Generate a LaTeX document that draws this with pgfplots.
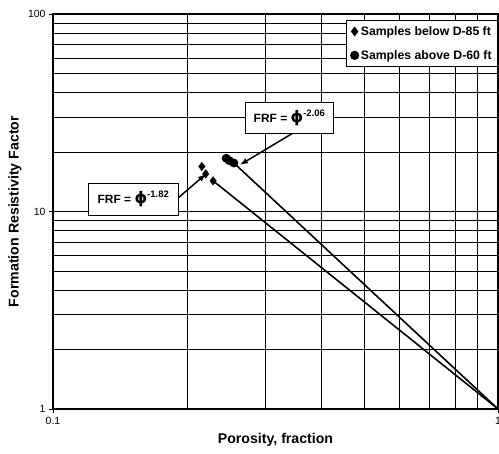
\documentclass[border=0pt]{standalone}
\usepackage{pgfplots}
\pgfplotsset{compat=1.18}
\usetikzlibrary{arrows.meta}
\usepackage{fontspec}
\setmainfont{Liberation Sans}
\newfontfamily\dejavu{DejaVu Sans}
\begin{document}
\begin{tikzpicture}
\begin{axis}[
  scale only axis,
  width=445bp, height=395bp,
  xmode=log, ymode=log,
  xmin=0.1, xmax=1, ymin=1, ymax=100,
  xtick={0.1,1}, xticklabels={0.1,1},
  ytick={1,10,100}, yticklabels={1,10,100},
  minor xtick={0.2,0.3,0.4,0.5,0.6,0.7,0.8,0.9},
  minor ytick={2,3,4,5,6,7,8,9,20,30,40,50,60,70,80,90},
  grid=both,
  major grid style={black, line width=0.6bp},
  minor grid style={black, line width=0.6bp},
  axis line style={black, line width=1.3bp},
  tick pos=left, tick align=outside,
  major tick length=4bp, minor tick length=0pt,
  tick style={black, line width=0.8bp},
  tick label style={font=\fontsize{10.5}{12}\selectfont},
  /pgf/number format/assume math mode=true,
  xticklabel style={yshift=-1bp},
  xlabel={\bfseries Porosity, fraction},
  ylabel={\bfseries Formation Resistivity Factor},
  label style={font=\fontsize{14.2}{16}\selectfont\bfseries},
  x label style={at={(axis description cs:0.5,0)}, anchor=center, yshift=-31bp},
  y label style={at={(axis description cs:-0.0854,0.5)}, anchor=center},
  clip=false,
  legend style={at={(rel axis cs:1,0.985)}, anchor=north east, draw=black, line width=0.8bp,
    fill=white, font=\fontsize{12.3}{14}\selectfont\bfseries, row sep=9.5bp,
    inner xsep=4bp, inner ysep=4bp},
  legend cell align=left,
  legend image code/.code={\draw[#1] plot coordinates {(0.1cm,0cm)};},
]
\addplot[black, line width=1.6bp, forget plot] coordinates {(0.229,14.3) (1,1)};
\addplot[black, line width=1.6bp, forget plot] coordinates {(0.255,17.6) (1,1)};
\addplot[only marks, mark=diamond*, mark size=4.3bp, black] coordinates {
  (0.216,16.9) (0.2204,15.5) (0.229,14.3)};
\addlegendentry{Samples below D-85 ft}
\addplot[only marks, mark=*, mark size=4.2bp, black] coordinates {
  (0.245,18.6) (0.249,18.1) (0.255,17.6)};
\addlegendentry{Samples above D-60 ft}
\draw[-{Latex[length=8bp,width=6bp]}, line width=1.5bp] (rel axis cs:0.2809,0.534) -- (rel axis cs:0.3438,0.5949);
\draw[-{Latex[length=8bp,width=6bp]}, line width=1.5bp] (rel axis cs:0.540,0.699) -- (rel axis cs:0.420,0.618);
\node[draw=black, line width=0.8bp, fill=white, minimum width=90bp, minimum height=32bp, inner sep=0pt,
  font=\fontsize{12}{14}\selectfont\bfseries] at (rel axis cs:0.1803,0.5316)
  {FRF = {\dejavu\fontsize{16}{16}\selectfont ϕ}\raisebox{6bp}{\fontsize{9.5}{10}\selectfont -1.82}};
\node[draw=black, line width=0.8bp, fill=white, minimum width=88bp, minimum height=31bp, inner sep=0pt,
  font=\fontsize{12}{14}\selectfont\bfseries] at (rel axis cs:0.531,0.737)
  {FRF = {\dejavu\fontsize{16}{16}\selectfont ϕ}\raisebox{6bp}{\fontsize{9.5}{10}\selectfont -2.06}};
\end{axis}
\pgfresetboundingbox
\path[use as bounding box] (current axis.south west) ++(-53bp,-45bp) rectangle ++(499bp,454bp);
\end{tikzpicture}
\end{document}
